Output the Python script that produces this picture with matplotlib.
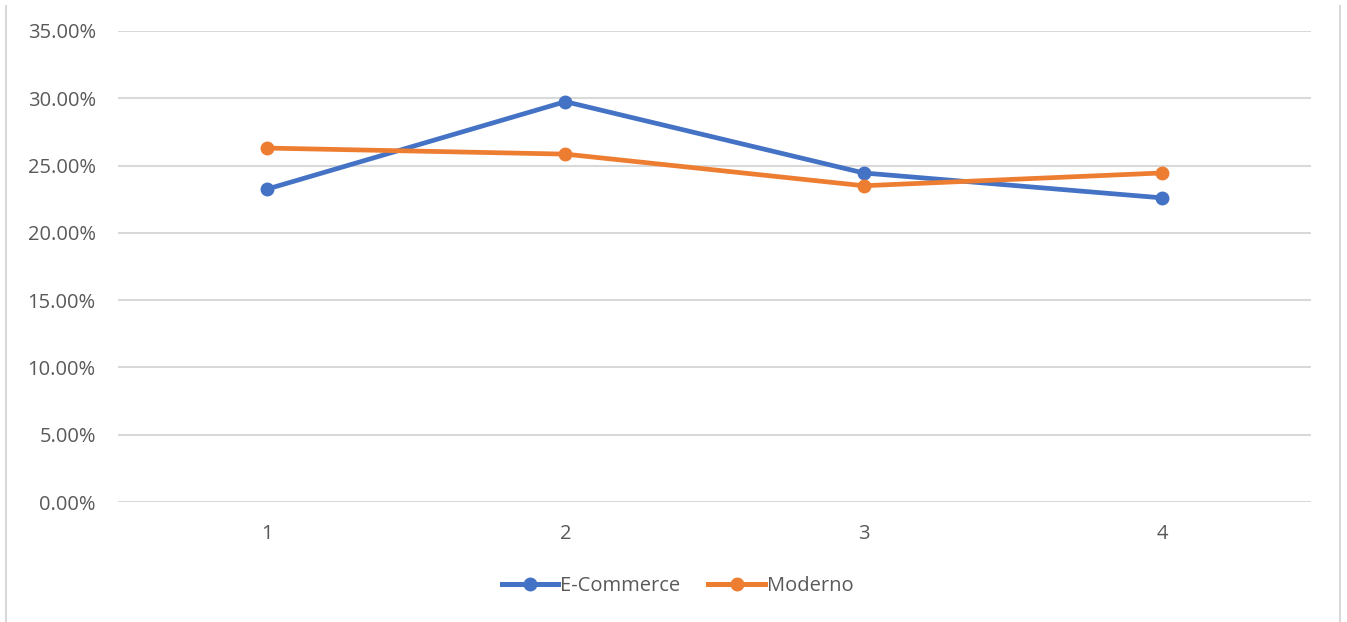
import matplotlib
matplotlib.use("Agg")
import matplotlib.pyplot as plt
from matplotlib.lines import Line2D
from matplotlib.ticker import FuncFormatter

categories = ["1", "2", "3", "4"]
ecommerce = [0.2325, 0.2975, 0.2445, 0.2260]
moderno = [0.2630, 0.2585, 0.2350, 0.2445]
y_ticks = [0.0, 0.05, 0.10, 0.15, 0.20, 0.25, 0.30, 0.35]

BLUE = "#4472C4"
ORANGE = "#ED7D31"
TEXT = "#595959"
GRID = "#D9D9D9"

plt.rcParams["font.family"] = ["Open Sans", "DejaVu Sans"]
FS = 14.5

fig = plt.figure(figsize=(13.47, 6.22), dpi=100)
ax = fig.add_axes([0.0876, 0.1929, 0.9733 - 0.0876, 0.9502 - 0.1929])

x = list(range(1, len(categories) + 1))
ax.plot(x, ecommerce, color=BLUE, lw=3.4, marker="o", ms=9, solid_capstyle="round",
        label="E-Commerce", zorder=3)
ax.plot(x, moderno, color=ORANGE, lw=3.4, marker="o", ms=9, solid_capstyle="round",
        label="Moderno", zorder=3)

ax.set_xlim(0.5, len(categories) + 0.5)
ax.set_ylim(0, 0.35)
ax.set_yticks(y_ticks)
ax.yaxis.set_major_formatter(FuncFormatter(lambda v, _: f"{v * 100:.2f}%"))
ax.set_xticks(x)
ax.set_xticklabels(categories)

ax.grid(axis="y", color=GRID, lw=1.5)
ax.set_axisbelow(True)
for s in ax.spines.values():
    s.set_visible(False)
ax.tick_params(axis="both", length=0, labelsize=FS, labelcolor=TEXT)
ax.tick_params(axis="y", pad=16)
ax.tick_params(axis="x", pad=16)

handles = [
    Line2D([], [], color=BLUE, lw=3.6, marker="o", ms=9),
    Line2D([], [], color=ORANGE, lw=3.6, marker="o", ms=9),
]
fig.legend(handles, ["E-Commerce", "Moderno"], loc="center", bbox_to_anchor=(0.503, 0.058),
           ncol=2, frameon=False, fontsize=FS, labelcolor=TEXT, handlelength=2.8,
           handletextpad=0.1, columnspacing=1.4)

# outer chart frame edges
fig.add_artist(Line2D([6 / 1347, 6 / 1347], [0, 1 - 6 / 622], transform=fig.transFigure,
                      color=GRID, lw=1.5))
fig.add_artist(Line2D([1340 / 1347, 1340 / 1347], [0, 1 - 6 / 622], transform=fig.transFigure,
                      color=GRID, lw=1.5))

fig.savefig("out.png", dpi=100, facecolor="white")
